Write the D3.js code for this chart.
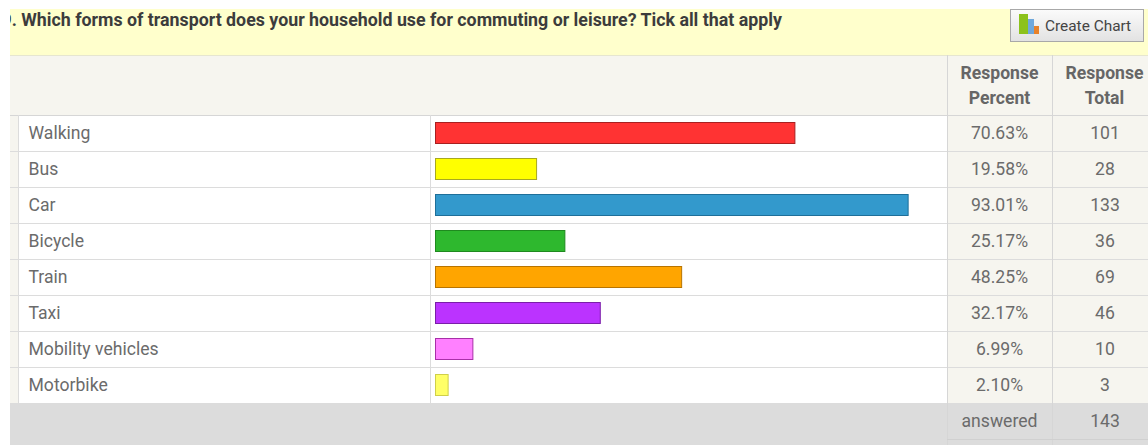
<!DOCTYPE html>
<html><head><meta charset="utf-8">
<script src="https://cdn.jsdelivr.net/npm/d3@7"></script>
<style>html,body{margin:0;padding:0;background:#fff;overflow:hidden}svg{display:block}</style>
</head><body><div id="c"></div>
<script>
const categories=["Walking","Bus","Car","Bicycle","Train","Taxi","Mobility vehicles","Motorbike"];
const percents=[70.63,19.58,93.01,25.17,48.25,32.17,6.99,2.10];
const percentLabels=["70.63%","19.58%","93.01%","25.17%","48.25%","32.17%","6.99%","2.10%"];
const totals=[101,28,133,36,69,46,10,3];
const fills=["#ff3333","#ffff00","#3399cc","#2eb82e","#ffa500","#bb33ff","#ff80ff","#ffff66"];
const strokes=["#a82020","#a8a820","#1f6f99","#1f8a1f","#b87400","#7a1fa8","#a830a8","#cfcf4a"];
const title="9. Which forms of transport does your household use for commuting or leisure? Tick all that apply";
const answered=143;

const W=1148,H=445;
const svg=d3.select("#c").append("svg").attr("width",W).attr("height",H);
const x=d3.scaleLinear().domain([0,100]).range([437,943]);
const y=d3.scaleBand().domain(categories).range([115.5,403.5]);
const line="#dcdcdc",cream="#f6f5ef",txt="#6b6b6b",font="Roboto, sans-serif",fs=17.6;
const rect=(a,b,w,h,f)=>svg.append("rect").attr("x",a).attr("y",b).attr("width",w).attr("height",h).attr("fill",f);
const hl=(a,b,yy,c)=>svg.append("line").attr("x1",a).attr("x2",b).attr("y1",yy).attr("y2",yy).attr("stroke",c||line);
const vl=(xx,a,b,c)=>svg.append("line").attr("x1",xx).attr("x2",xx).attr("y1",a).attr("y2",b).attr("stroke",c||line);

rect(10,9,W-10,46,"#ffffcc");
rect(10,55,W-10,60,cream);
rect(10,115,8,289,cream);
rect(947,115,W-947,289,cream);
rect(10,404,W-10,41,"#dcdcdc");
hl(10,W,55.5,"#e6e6d0");
hl(10,W,115.5,"#d6d6d6");

svg.append("clipPath").attr("id","tc").append("rect").attr("x",10).attr("y",0).attr("width",W).attr("height",H);
svg.append("text").attr("clip-path","url(#tc)").attr("x",1.5).attr("y",26)
  .attr("font-family",font).attr("font-weight",700).attr("font-size",17.8)
  .attr("fill","#3c3c3c").text(title);

const btn=svg.append("defs").append("linearGradient").attr("id","bg").attr("x2",0).attr("y2",1);
btn.append("stop").attr("offset",0).attr("stop-color","#fbfbfb");
btn.append("stop").attr("offset",1).attr("stop-color","#e2e2e2");
rect(1010.5,9.5,133,32,"url(#bg)").attr("stroke","#a8a8a8");
rect(1019,14,9,20,"#8cc21c");
rect(1028,19,6,15,"#6fa8dc");
rect(1034,26,5,8,"#e8822a");
svg.append("text").attr("x",1045).attr("y",31).attr("font-family",font)
  .attr("font-size",15.4).attr("fill","#444").text("Create Chart");

const head=[["Response","Percent",999.5],["Response","Total",1104.5]];
head.forEach(h=>{[h[0],h[1]].forEach((t,i)=>{
  svg.append("text").attr("x",h[2]).attr("y",78.5+i*25).attr("text-anchor","middle")
   .attr("font-family",font).attr("font-weight",700).attr("font-size",fs).attr("fill","#666").text(t);
});});

const rows=svg.selectAll("g.row").data(categories).join("g").attr("class","row");
rows.append("line").attr("x1",10).attr("x2",W).attr("y1",d=>y(d)+y.bandwidth()).attr("y2",d=>y(d)+y.bandwidth()).attr("stroke",line);
rows.append("text").attr("x",28.5).attr("y",d=>y(d)+23.5).attr("font-family",font).attr("font-size",fs).attr("fill",txt).text(d=>d);
rows.append("rect").attr("x",435.5).attr("y",d=>y(d)+7)
  .attr("width",(d,i)=>x(percents[i])-435).attr("height",21)
  .attr("fill",(d,i)=>fills[i]).attr("stroke",(d,i)=>strokes[i]);
rows.append("text").attr("x",999.5).attr("y",d=>y(d)+23.5).attr("text-anchor","middle").attr("font-family",font).attr("font-size",fs).attr("fill",txt).text((d,i)=>percentLabels[i]);
rows.append("text").attr("x",1105).attr("y",d=>y(d)+23.5).attr("text-anchor","middle").attr("font-family",font).attr("font-size",fs).attr("fill",txt).text((d,i)=>totals[i]);

vl(18.5,115,404);vl(430.5,115,404);
vl(947.5,55,445,"#d6d6d6");vl(1052.5,55,445,"#d6d6d6");
hl(947,W,439.5,"#d0d0d0");

svg.append("text").attr("x",999.5).attr("y",427).attr("text-anchor","middle").attr("font-family",font).attr("font-size",fs).attr("fill",txt).text("answered");
svg.append("text").attr("x",1105).attr("y",427).attr("text-anchor","middle").attr("font-family",font).attr("font-size",fs).attr("fill",txt).text(answered);
</script></body></html>
